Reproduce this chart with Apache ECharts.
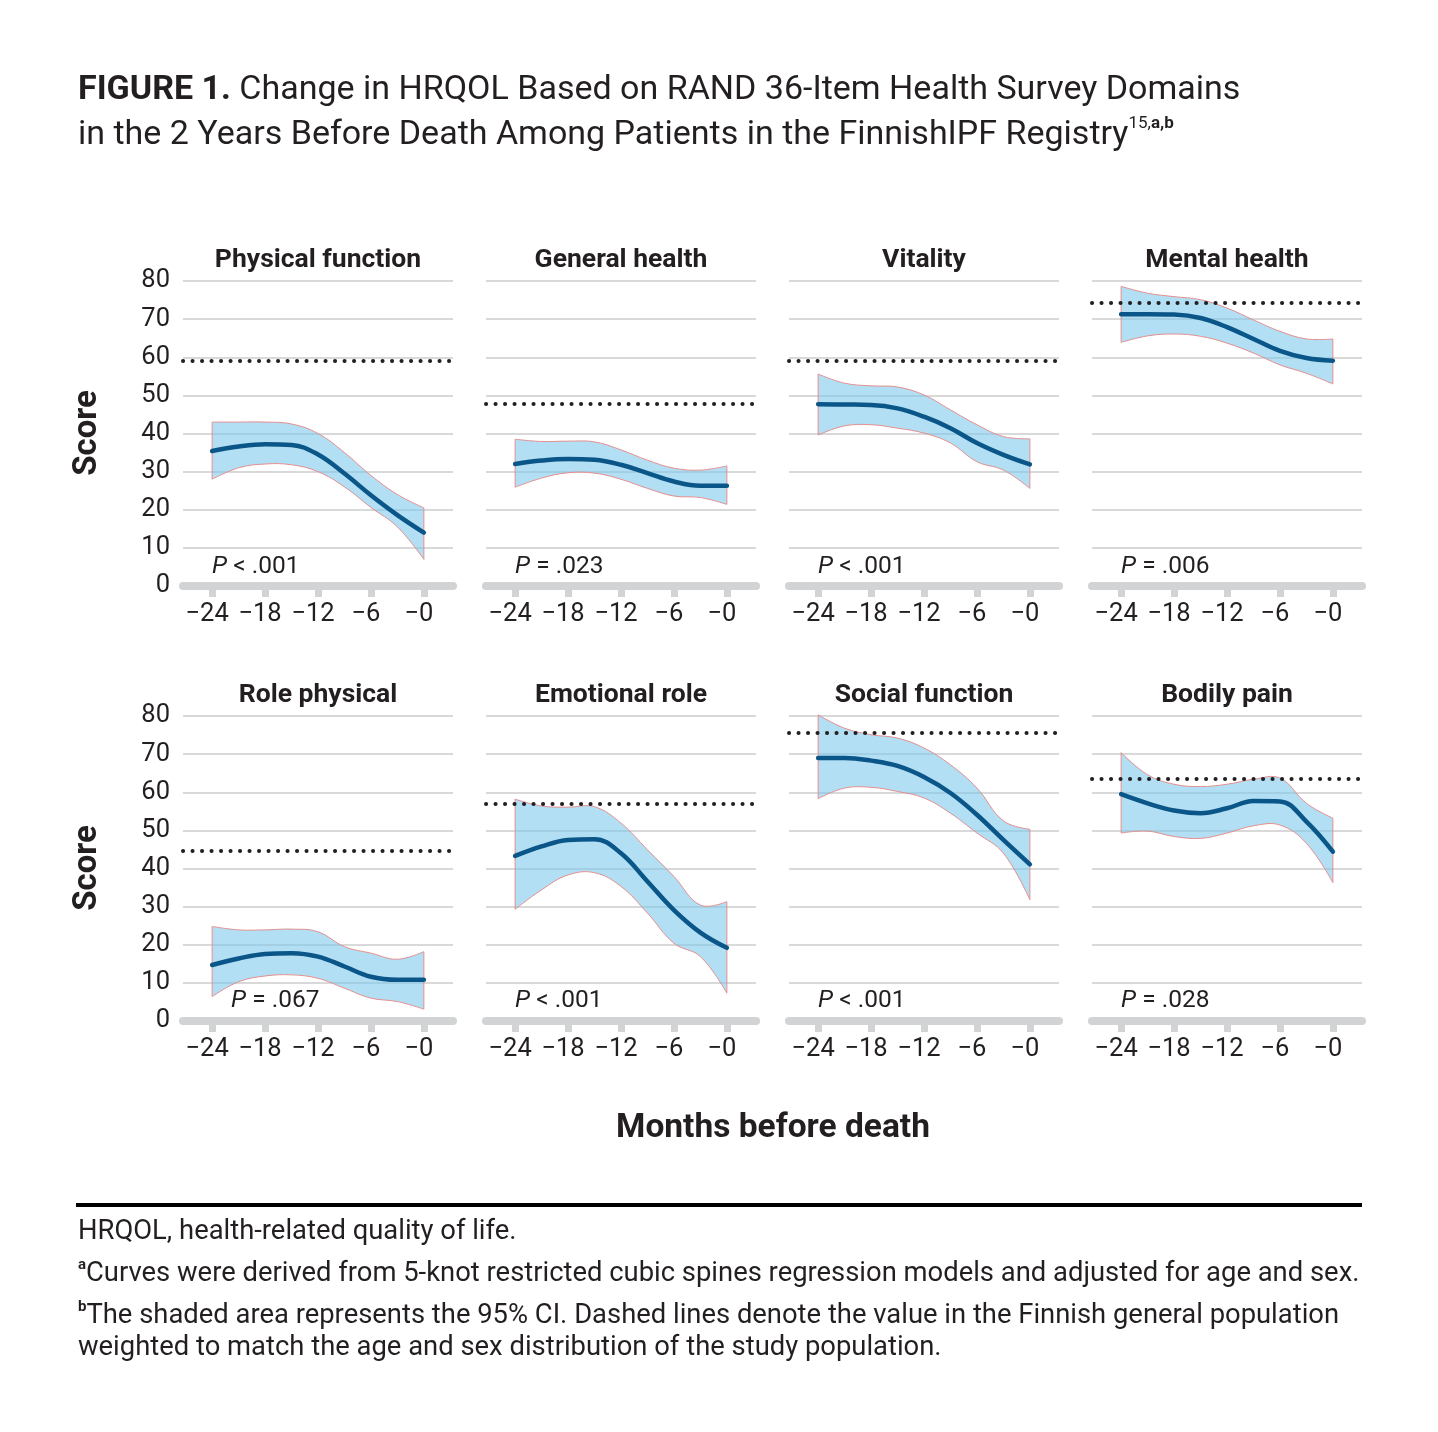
<!DOCTYPE html>
<html><head><meta charset="utf-8">
<script src="https://cdn.jsdelivr.net/npm/echarts@6/dist/echarts.min.js"></script>
<style>html,body{margin:0;padding:0;background:#fff}#c{width:1438px;height:1432px}</style>
</head><body><div id="c"></div>
<script>
// ---------- DATA ----------
const months = [-24, -21, -18, -15, -12, -9, -6, -3, 0];
const tickMonths = [-24, -18, -12, -6, 0];
const domains = ['Physical function', 'General health', 'Vitality', 'Mental health',
                 'Role physical', 'Emotional role', 'Social function', 'Bodily pain'];
const pLabels = ['< .001', '= .023', '< .001', '= .006', '= .067', '< .001', '< .001', '= .028'];
const pLabelMonth = [-24, -24, -24, -24, -21.85, -24, -24, -24];
const pLabelScore = [5, 5, 5, 5, 5.2, 5.2, 5.2, 5.2];
const populationRef = [59.1, 47.8, 59.1, 74.4, 44.6, 56.9, 75.7, 63.5];

const physicalMean  = [35.4, 36.6, 37.2, 37.0, 34.5, 29.5, 23.8, 18.6, 14.0];
const physicalUpper = [43.0, 43.0, 43.0, 42.5, 40.0, 35.0, 29.0, 24.0, 20.5];
const physicalLower = [28.0, 31.0, 32.0, 31.8, 30.0, 26.0, 20.6, 15.5, 7.0];

const generalMean  = [32.0, 32.9, 33.3, 33.1, 31.8, 29.6, 27.4, 26.3, 26.3];
const generalUpper = [38.5, 37.9, 38.0, 37.8, 35.7, 33.0, 30.9, 30.4, 31.5];
const generalLower = [25.9, 28.3, 29.7, 29.6, 28.0, 25.6, 23.6, 23.2, 21.4];

const vitalityMean  = [47.7, 47.6, 47.5, 46.6, 44.4, 41.4, 37.5, 34.4, 31.9];
const vitalityUpper = [55.6, 53.2, 52.5, 52.2, 50.1, 46.2, 42.3, 39.2, 38.6];
const vitalityLower = [39.6, 42.0, 42.3, 41.4, 40.1, 37.5, 32.6, 30.4, 25.6];

const mentalMean  = [71.3, 71.3, 71.2, 70.3, 67.9, 64.8, 61.7, 59.8, 59.1];
const mentalUpper = [78.6, 76.8, 75.9, 75.1, 72.9, 69.8, 66.8, 64.8, 64.8];
const mentalLower = [63.9, 65.6, 66.1, 65.5, 63.7, 61.1, 58.0, 55.8, 53.0];

const rolePhysicalMean  = [14.7, 16.4, 17.6, 17.8, 16.9, 14.3, 11.6, 10.8, 10.8];
const rolePhysicalUpper = [24.8, 23.9, 23.9, 24.1, 23.4, 19.5, 17.8, 16.2, 18.2];
const rolePhysicalLower = [6.4, 10.3, 11.8, 12.1, 11.2, 8.6, 6.0, 5.1, 3.1];

const emotionalMean  = [43.3, 45.8, 47.5, 47.7, 44.0, 36.6, 29.1, 23.2, 19.2];
const emotionalUpper = [58.2, 56.4, 56.1, 56.2, 51.9, 44.9, 37.9, 30.4, 31.3];
const emotionalLower = [29.3, 34.4, 38.3, 38.9, 35.3, 28.3, 20.4, 16.9, 7.3];

const socialMean  = [69.0, 69.0, 68.3, 66.9, 64.0, 59.8, 54.1, 47.5, 41.1];
const socialUpper = [80.3, 76.8, 75.1, 74.2, 71.6, 67.2, 61.1, 52.5, 50.3];
const socialLower = [58.3, 61.1, 61.3, 60.2, 58.5, 54.5, 49.3, 44.0, 31.8];

const painMean  = [59.5, 57.1, 55.2, 54.5, 55.8, 57.7, 57.6, 52.3, 44.4];
const painUpper = [70.4, 64.6, 62.1, 61.5, 62.1, 63.4, 63.7, 57.1, 53.2];
const painLower = [49.3, 49.8, 48.4, 47.9, 49.3, 51.2, 51.4, 46.6, 36.3];

const meanSets  = [physicalMean, generalMean, vitalityMean, mentalMean, rolePhysicalMean, emotionalMean, socialMean, painMean];
const upperSets = [physicalUpper, generalUpper, vitalityUpper, mentalUpper, rolePhysicalUpper, emotionalUpper, socialUpper, painUpper];
const lowerSets = [physicalLower, generalLower, vitalityLower, mentalLower, rolePhysicalLower, emotionalLower, socialLower, painLower];

// ---------- STYLE ----------
const FONT = 'Roboto, "Noto Sans", sans-serif';
const TXT = '#231f20';
const LINE = '#0a5688';
const BANDFILL = 'rgba(122,200,236,0.58)';
const EDGE = '#e58f8f';
const GRIDC = '#d9d9d9';
const AXISC = '#d1d3d4';
const SMOOTH = 0.4;

// smooth path segments (same control-point rule as ECharts line smoothing)
function smoothSegs(pts, startCmd) {
  let d = startCmd + pts[0][0] + ' ' + pts[0][1];
  const n = pts.length;
  const cps = pts.map((p, k) => {
    if (k === 0 || k === n - 1) return [p.slice(), p.slice()];
    const prev = pts[k - 1], next = pts[k + 1];
    const vx = next[0] - prev[0], vy = next[1] - prev[1];
    let d0 = Math.hypot(p[0] - prev[0], p[1] - prev[1]);
    let d1 = Math.hypot(next[0] - p[0], next[1] - p[1]);
    const s = d0 + d1 || 1; d0 /= s; d1 /= s;
    return [[p[0] - vx * SMOOTH * d0, p[1] - vy * SMOOTH * d0],
            [p[0] + vx * SMOOTH * d1, p[1] + vy * SMOOTH * d1]];
  });
  for (let k = 0; k < n - 1; k++) {
    const c1 = cps[k][1], c2 = cps[k + 1][0], p = pts[k + 1];
    d += ' C' + c1[0] + ' ' + c1[1] + ' ' + c2[0] + ' ' + c2[1] + ' ' + p[0] + ' ' + p[1];
  }
  return d;
}

const chart = echarts.init(document.getElementById('c'), null, {renderer: 'canvas'});

const grids = [], xAxes = [], yAxes = [], series = [], graphics = [];
for (let i = 0; i < 8; i++) {
  const col = i % 4, row = Math.floor(i / 4);
  const left = 183 + 303 * col, top = row ? 716 : 281;
  grids.push({left: left, top: top, width: 270, height: 305, containLabel: false});
  xAxes.push({
    gridIndex: i, type: 'value', min: -27.3, max: 3.3,
    splitLine: {show: false},
    axisLine: {show: true, onZero: false, lineStyle: {color: AXISC, width: 8}},
    axisTick: {show: true, customValues: tickMonths, length: 11, lineStyle: {color: AXISC, width: 7}},
    axisLabel: {customValues: tickMonths, formatter: v => '\u2212' + Math.abs(v),
                fontSize: 25.5, color: TXT, fontFamily: FONT, margin: 16, padding: [0, 10, 0, 0]}
  });
  yAxes.push({
    gridIndex: i, type: 'value', min: 0, max: 80, interval: 10,
    splitLine: {show: true, lineStyle: {color: GRIDC, width: 2}},
    axisLine: {show: false}, axisTick: {show: false},
    axisLabel: {show: col === 0, fontSize: 25.5, color: TXT, fontFamily: FONT, margin: 13}
  });
  const mean = meanSets[i], up = upperSets[i], lo = lowerSets[i];
  // confidence band
  series.push({
    type: 'custom', xAxisIndex: i, yAxisIndex: i, silent: true, animation: false, z: 2,
    data: months.map((m, k) => [m, lo[k], up[k]]),
    encode: {x: 0, y: [1, 2]},
    renderItem: (params, api) => {
      if (params.dataIndex !== 0) return null;
      const upPts = months.map((m, k) => api.coord([m, up[k]]));
      const loPts = months.map((m, k) => api.coord([m, lo[k]])).reverse();
      const d = smoothSegs(upPts, 'M') + ' ' + smoothSegs(loPts, 'L') + ' Z';
      return {type: 'path', shape: {pathData: d},
              style: {fill: BANDFILL, stroke: EDGE, lineWidth: 1}};
    }
  });
  // mean curve + general population reference
  series.push({
    type: 'line', xAxisIndex: i, yAxisIndex: i, silent: true, animation: false,
    data: months.map((m, k) => [m, mean[k]]), smooth: SMOOTH, symbol: 'none',
    lineStyle: {color: LINE, width: 4.5, cap: 'round'}, z: 5,
    markLine: {
      silent: true, animation: false, symbol: ['none', 'none'], label: {show: false},
      lineStyle: {color: TXT, width: 4, type: [0.1, 9.4], cap: 'round'},
      data: [{yAxis: populationRef[i]}]
    }
  });
  // P value label
  series.push({
    type: 'scatter', xAxisIndex: i, yAxisIndex: i, silent: true, animation: false,
    data: [[pLabelMonth[i], pLabelScore[i]]], symbolSize: 0,
    itemStyle: {color: 'transparent', opacity: 1}, z: 6,
    label: {
      show: true, position: 'right', distance: 0, color: TXT, opacity: 1,
      formatter: '{i|P}{n| ' + pLabels[i] + '}',
      rich: {
        i: {fontStyle: 'italic', fontSize: 24.5, fontFamily: FONT, color: TXT},
        n: {fontSize: 24.5, fontFamily: FONT, color: TXT}
      }
    }
  });
  graphics.push({
    type: 'text', x: left + 135, y: top - 21, silent: true,
    style: {text: domains[i], fontSize: 26.5, fontWeight: 'bold', fontFamily: FONT, fill: TXT,
            textAlign: 'center', textVerticalAlign: 'middle'}
  });
}

// axis titles
[433, 868].forEach(cy => graphics.push({
  type: 'text', x: 88, y: cy, rotation: Math.PI / 2, silent: true,
  style: {text: 'Score', fontSize: 33, fontWeight: 'bold', fontFamily: FONT, fill: TXT,
          textAlign: 'center', textVerticalAlign: 'middle'}
}));
graphics.push({
  type: 'text', x: 773, y: 1129, silent: true,
  style: {text: 'Months before death', fontSize: 33.5, fontWeight: 'bold', fontFamily: FONT, fill: TXT,
          textAlign: 'center', textVerticalAlign: 'middle'}
});

// figure title
graphics.push({
  type: 'text', x: 78, y: 90, silent: true,
  style: {text: '{b|FIGURE 1.} Change in HRQOL Based on RAND 36-Item Health Survey Domains',
          fontSize: 34, fontFamily: FONT, fill: TXT, textAlign: 'left', textVerticalAlign: 'middle',
          rich: {b: {fontSize: 34, fontWeight: 'bold', fontFamily: FONT, fill: TXT}}}
});
graphics.push({
  type: 'text', x: 78, y: 135, silent: true,
  style: {text: 'in the 2 Years Before Death Among Patients in the FinnishIPF Registry{s|15,}{sb|a,b}',
          fontSize: 34, fontFamily: FONT, fill: TXT, textAlign: 'left', textVerticalAlign: 'middle', lineHeight: 40,
          rich: {
            s: {fontSize: 17, fontFamily: FONT, fill: TXT, verticalAlign: 'top', lineHeight: 40},
            sb: {fontSize: 17, fontWeight: 'bold', fontFamily: FONT, fill: TXT, verticalAlign: 'top', lineHeight: 40}
          }}
});

// separator
graphics.push({type: 'line', silent: true, shape: {x1: 76, y1: 1205, x2: 1362, y2: 1205},
               style: {stroke: '#000', lineWidth: 4}});

// footnotes
const foot = [
  [1232, 'HRQOL, health-related quality of life.'],
  [1274, '{s|a}Curves were derived from 5-knot restricted cubic spines regression models and adjusted for age and sex.'],
  [1316, '{s|b}The shaded area represents the 95% CI. Dashed lines denote the value in the Finnish general population'],
  [1348, 'weighted to match the age and sex distribution of the study population.']
];
foot.forEach(([y, t]) => graphics.push({
  type: 'text', x: 78, y: y, silent: true,
  style: {text: t, fontSize: 27.4, fontFamily: FONT, fill: TXT, textAlign: 'left', textVerticalAlign: 'middle', lineHeight: 32,
          rich: {s: {fontSize: 15, fontWeight: 'bold', fontFamily: FONT, fill: TXT, verticalAlign: 'top', lineHeight: 32}}}
}));

chart.setOption({
  animation: false,
  backgroundColor: '#fff',
  grid: grids, xAxis: xAxes, yAxis: yAxes, series: series, graphic: graphics
});
</script></body></html>
